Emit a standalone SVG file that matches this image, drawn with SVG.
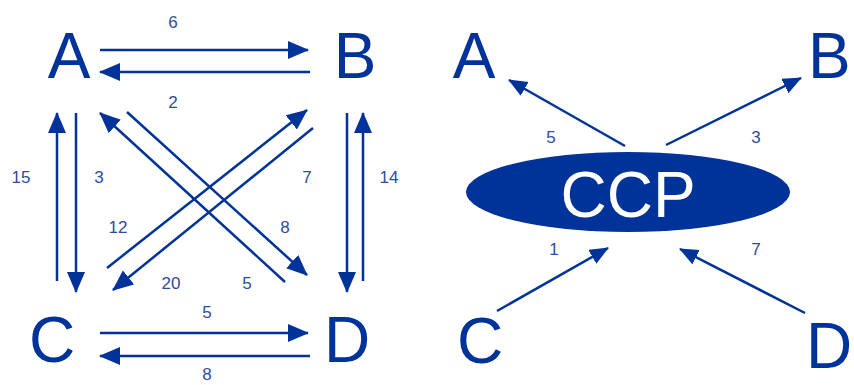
<svg xmlns="http://www.w3.org/2000/svg" width="854" height="385" viewBox="0 0 854 385">
<style>
.bg{fill:#ffffff}
.node{font-family:"Liberation Sans",Arial,sans-serif;font-size:64px;fill:#003399}
.lbl{font-family:"Liberation Sans",Arial,sans-serif;font-size:17px;fill:#2d4c9e;text-anchor:middle}
.edge{stroke:#003399;stroke-width:2.5;fill:none;marker-end:url(#ah)}
.edge2{stroke:#003399;stroke-width:2.5;fill:none;marker-end:url(#ah2)}
</style>
<defs>
<marker id="ah" markerUnits="userSpaceOnUse" markerWidth="22" markerHeight="20" viewBox="0 0 22 20" refX="20" refY="9" orient="auto">
<path d="M0,0 L21,9 L0,18 z" fill="#003399"/>
</marker>
<marker id="ah2" markerUnits="userSpaceOnUse" markerWidth="22" markerHeight="20" viewBox="0 0 22 20" refX="18" refY="8" orient="auto">
<path d="M0,0 L19,8 L0,16 z" fill="#003399"/>
</marker>
</defs>
<rect class="bg" width="854" height="385"/>
<g id="connectors">
<line class="edge" x1="100" y1="50" x2="308" y2="50"/>
<line class="edge" x1="310" y1="72" x2="100" y2="72"/>
<line class="edge" x1="100" y1="333" x2="308" y2="333"/>
<line class="edge" x1="310" y1="356" x2="100" y2="356"/>
<line class="edge" x1="57" y1="281" x2="57" y2="113"/>
<line class="edge" x1="76" y1="113" x2="76" y2="292"/>
<line class="edge" x1="347" y1="113" x2="347" y2="292"/>
<line class="edge" x1="363" y1="281" x2="363" y2="113"/>
<line class="edge" x1="285" y1="282" x2="100" y2="113"/>
<line class="edge" x1="127" y1="112" x2="307" y2="275"/>
<line class="edge" x1="107" y1="268" x2="307" y2="110"/>
<line class="edge" x1="313" y1="128" x2="113" y2="290"/>
<line class="edge2" x1="625" y1="146" x2="509" y2="80"/>
<line class="edge2" x1="666" y1="145" x2="801" y2="78"/>
<line class="edge2" x1="497" y1="311" x2="608" y2="248"/>
<line class="edge2" x1="805" y1="313" x2="680" y2="249"/>
</g>
<g id="labels">
<text class="lbl" x="173" y="28">6</text>
<text class="lbl" x="173" y="108">2</text>
<text class="lbl" x="21" y="183">15</text>
<text class="lbl" x="99" y="183">3</text>
<text class="lbl" x="307" y="183">7</text>
<text class="lbl" x="389" y="183">14</text>
<text class="lbl" x="118" y="233">12</text>
<text class="lbl" x="285" y="233">8</text>
<text class="lbl" x="171" y="289">20</text>
<text class="lbl" x="247" y="289">5</text>
<text class="lbl" x="207" y="318">5</text>
<text class="lbl" x="207" y="380">8</text>
<text class="lbl" x="551" y="143">5</text>
<text class="lbl" x="756" y="143">3</text>
<text class="lbl" x="554" y="255">1</text>
<text class="lbl" x="756" y="255">7</text>
</g>
<g id="node-A-left"><text class="node" x="69" y="78" text-anchor="middle">A</text></g>
<g id="node-B-left"><text class="node" x="355" y="78" text-anchor="middle">B</text></g>
<g id="node-C-left"><text class="node" x="52" y="362" text-anchor="middle">C</text></g>
<g id="node-D-left"><text class="node" x="347" y="362" text-anchor="middle">D</text></g>
<g id="node-A-right"><text class="node" x="474" y="78" text-anchor="middle">A</text></g>
<g id="node-B-right"><text class="node" x="808" y="78">B</text></g>
<g id="node-C-right"><text class="node" x="480" y="363" text-anchor="middle">C</text></g>
<g id="node-D-right"><text class="node" x="806" y="368">D</text></g>
<g id="node-CCP">
<ellipse cx="628" cy="192" rx="162" ry="40" fill="#003399"/>
<text class="node" x="628" y="217" text-anchor="middle" style="fill:#ffffff">CCP</text>
</g>
</svg>
